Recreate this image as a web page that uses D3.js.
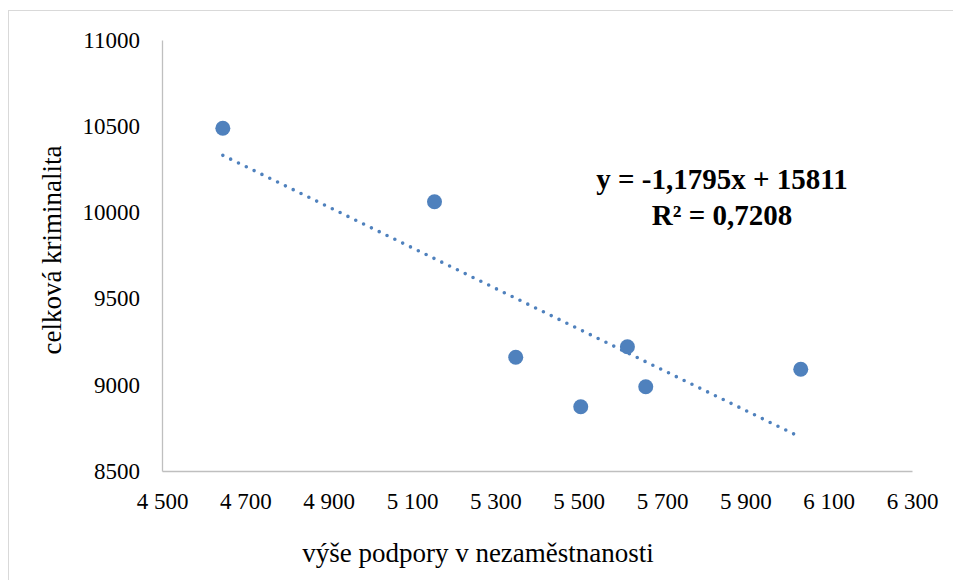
<!DOCTYPE html>
<html>
<head>
<meta charset="utf-8">
<script src="https://cdn.jsdelivr.net/npm/d3@7"></script>
<style>
  body { margin: 0; background: #fff; }
  svg text { font-family: "Liberation Serif", "Times New Roman", serif; fill: #000; }
</style>
</head>
<body>
<div id="chart"></div>
<script>
// data
const podpora = [4646, 5154, 5349, 5505, 5617, 5661, 6033];
const kriminalita = [10488, 10062, 9160, 8873, 9221, 8989, 9090];
const xTicks = [4500, 4700, 4900, 5100, 5300, 5500, 5700, 5900, 6100, 6300];
const yTicks = [8500, 9000, 9500, 10000, 10500, 11000];
const trendSlope = -1.1795;
const trendIntercept = 15811;
const trendLabels = ["y = -1,1795x + 15811", "R² = 0,7208"];

const width = 953, height = 580;
const blue = "#4F81BD";
const serif = "'Liberation Serif', 'Times New Roman', serif";

const svg = d3.select("#chart").append("svg")
  .attr("width", width)
  .attr("height", height);

// chart frame (right and bottom edges run off the picture)
svg.append("rect")
  .attr("x", 8.5).attr("y", 10.5)
  .attr("width", 970).attr("height", 620)
  .attr("fill", "#fff")
  .attr("stroke", "#d9d9d9");

const x = d3.scaleLinear().domain([4500, 6300]).range([162, 912]);
const y = d3.scaleLinear().domain([8500, 11000]).range([471, 40]);

const cz = d3.formatLocale({ decimal: ",", thousands: " ", grouping: [3] });

const xAxis = svg.append("g")
  .attr("transform", "translate(0," + y(8500) + ")")
  .call(d3.axisBottom(x).tickValues(xTicks).tickFormat(cz.format(",")).tickSize(0).tickPadding(22));

const yAxis = svg.append("g")
  .attr("transform", "translate(" + x(4500) + ",0)")
  .call(d3.axisLeft(y).tickValues(yTicks).tickFormat(d3.format("d")).tickSize(0).tickPadding(22));

[xAxis, yAxis].forEach(function(a) {
  a.attr("font-family", serif).attr("font-size", 23);
  a.select(".domain").attr("stroke", "#bfbfbf").attr("stroke-width", 1.3);
  a.selectAll("text")
    .style("font-family", serif)
    .style("font-size", "23px")
    .attr("fill", "#000");
});

// axis titles
svg.append("text")
  .attr("x", 478)
  .attr("y", 562)
  .attr("text-anchor", "middle")
  .style("font-size", "27px")
  .text("výše podpory v nezaměstnanosti");

svg.append("text")
  .attr("transform", "translate(61,250) rotate(-90)")
  .attr("text-anchor", "middle")
  .style("font-size", "27px")
  .text("celková kriminalita");

// linear trendline, dotted
const xMin = d3.min(podpora), xMax = d3.max(podpora);
const trend = [xMin, xMax].map(function(v) { return [v, trendSlope * v + trendIntercept]; });

svg.append("path")
  .datum(trend)
  .attr("fill", "none")
  .attr("stroke", blue)
  .attr("stroke-width", 3.6)
  .attr("stroke-linecap", "round")
  .attr("stroke-dasharray", "0,8.7")
  .attr("d", d3.line().x(function(d) { return x(d[0]); }).y(function(d) { return y(d[1]); }));

// points
svg.append("g")
  .selectAll("circle")
  .data(podpora.map(function(v, i) { return [v, kriminalita[i]]; }))
  .enter().append("circle")
  .attr("cx", function(d) { return x(d[0]); })
  .attr("cy", function(d) { return y(d[1]); })
  .attr("r", 7.5)
  .attr("fill", blue);

// trendline equation
svg.append("g")
  .selectAll("text")
  .data(trendLabels)
  .enter().append("text")
  .attr("x", 722)
  .attr("y", function(d, i) { return 189 + i * 36; })
  .attr("text-anchor", "middle")
  .style("font-size", "29px")
  .style("font-weight", "bold")
  .text(function(d) { return d; });
</script>
</body>
</html>
